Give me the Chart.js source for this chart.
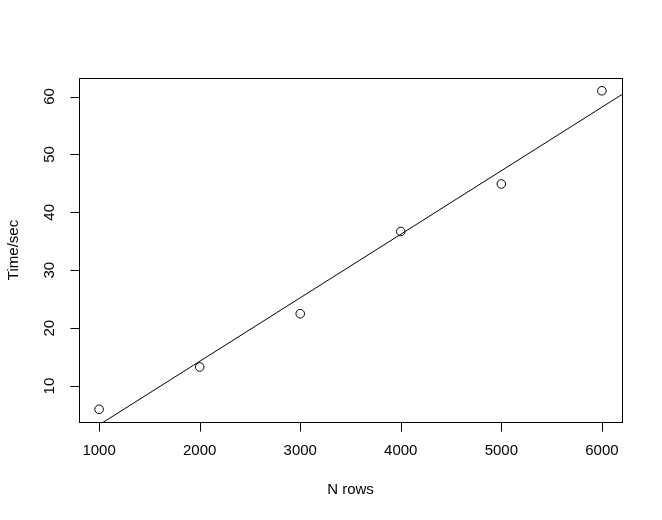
<!DOCTYPE html>
<html>
<head>
<meta charset="utf-8">
<script src="https://cdn.jsdelivr.net/npm/chart.js@4/dist/chart.umd.min.js"></script>
<style>
  html, body { margin:0; padding:0; background:#fff; }
  canvas { display:block; }
</style>
</head>
<body>
<canvas id="c" width="662" height="520"></canvas>
<script>
// data
const nRows   = [1000, 2000, 3000, 4000, 5000, 6000];
const timeSec = [6.0, 13.3, 22.5, 36.7, 44.9, 61.0];
const xTicks  = [1000, 2000, 3000, 4000, 5000, 6000];
const yTicks  = [10, 20, 30, 40, 50, 60];

const FONT = '15px "Liberation Sans", Arial, sans-serif';

// least squares fit, like abline(lm(time ~ n))
function fitLine(xs, ys) {
  const n = xs.length;
  const mx = xs.reduce((a,b)=>a+b,0)/n, my = ys.reduce((a,b)=>a+b,0)/n;
  let sxy = 0, sxx = 0;
  xs.forEach((x,i) => { sxy += (x-mx)*(ys[i]-my); sxx += (x-mx)*(x-mx); });
  const b = sxy/sxx;
  return { a: my - b*mx, b };
}

// R style axis range: data range + 4% each side
function rRange(vals) {
  const lo = Math.min(...vals), hi = Math.max(...vals), d = (hi-lo)*0.04;
  return [lo-d, hi+d];
}

const [xMin, xMax] = rRange(nRows);
const [yMin, yMax] = rRange(timeSec);
const fit = fitLine(nRows, timeSec);
const fitPts = [xMin, xMax].map(x => ({x, y: fit.a + fit.b*x}));

const rAxes = {
  id: 'rAxes',
  afterDraw(chart) {
    const {ctx, chartArea: ca, scales: {x, y}} = chart;
    ctx.save();
    ctx.strokeStyle = '#000';
    ctx.lineWidth = 1;
    ctx.fillStyle = '#000';
    ctx.font = FONT;

    // box
    ctx.strokeRect(Math.round(ca.left)+0.5, Math.round(ca.top)+0.5,
                   Math.round(ca.right-ca.left), Math.round(ca.bottom-ca.top));

    // x axis
    const xb = Math.round(ca.bottom)+0.5;
    ctx.beginPath();
    ctx.moveTo(x.getPixelForValue(xTicks[0]), xb);
    ctx.lineTo(x.getPixelForValue(xTicks[xTicks.length-1]), xb);
    xTicks.forEach(v => {
      const px = Math.round(x.getPixelForValue(v))+0.5;
      ctx.moveTo(px, xb); ctx.lineTo(px, xb+9);
    });
    ctx.stroke();
    ctx.textAlign = 'center';
    ctx.textBaseline = 'middle';
    xTicks.forEach(v => ctx.fillText(String(v), x.getPixelForValue(v), 451));
    ctx.fillText('N rows', (ca.left+ca.right)/2, 490);

    // y axis
    const yl = Math.round(ca.left)+0.5;
    ctx.beginPath();
    ctx.moveTo(yl, y.getPixelForValue(yTicks[0]));
    ctx.lineTo(yl, y.getPixelForValue(yTicks[yTicks.length-1]));
    yTicks.forEach(v => {
      const py = Math.round(y.getPixelForValue(v))+0.5;
      ctx.moveTo(yl, py); ctx.lineTo(yl-9, py);
    });
    ctx.stroke();
    yTicks.forEach(v => {
      ctx.save();
      ctx.translate(50, y.getPixelForValue(v));
      ctx.rotate(-Math.PI/2);
      ctx.fillText(String(v), 0, 0);
      ctx.restore();
    });
    ctx.save();
    ctx.translate(14, (ca.top+ca.bottom)/2);
    ctx.rotate(-Math.PI/2);
    ctx.fillText('Time/sec', 0, 0);
    ctx.restore();

    ctx.restore();
  }
};

new Chart(document.getElementById('c'), {
  type: 'scatter',
  data: {
    datasets: [
      {
        data: nRows.map((n,i) => ({x: n, y: timeSec[i]})),
        pointStyle: 'circle', pointRadius: 4.3, borderColor: '#000',
        backgroundColor: 'rgba(0,0,0,0)', borderWidth: 1, showLine: false,
      },
      {
        data: fitPts, showLine: true, pointRadius: 0,
        borderColor: '#000', borderWidth: 1, fill: false, clip: 0,
      },
    ],
  },
  options: {
    responsive: false, animation: false,
    layout: { padding: { left: 79, right: 40, top: 78, bottom: 98 } },
    plugins: { legend: { display: false }, tooltip: { enabled: false } },
    scales: {
      x: { type: 'linear', min: xMin, max: xMax, display: false },
      y: { type: 'linear', min: yMin, max: yMax, display: false },
    },
  },
  plugins: [rAxes],
});
</script>
</body>
</html>
